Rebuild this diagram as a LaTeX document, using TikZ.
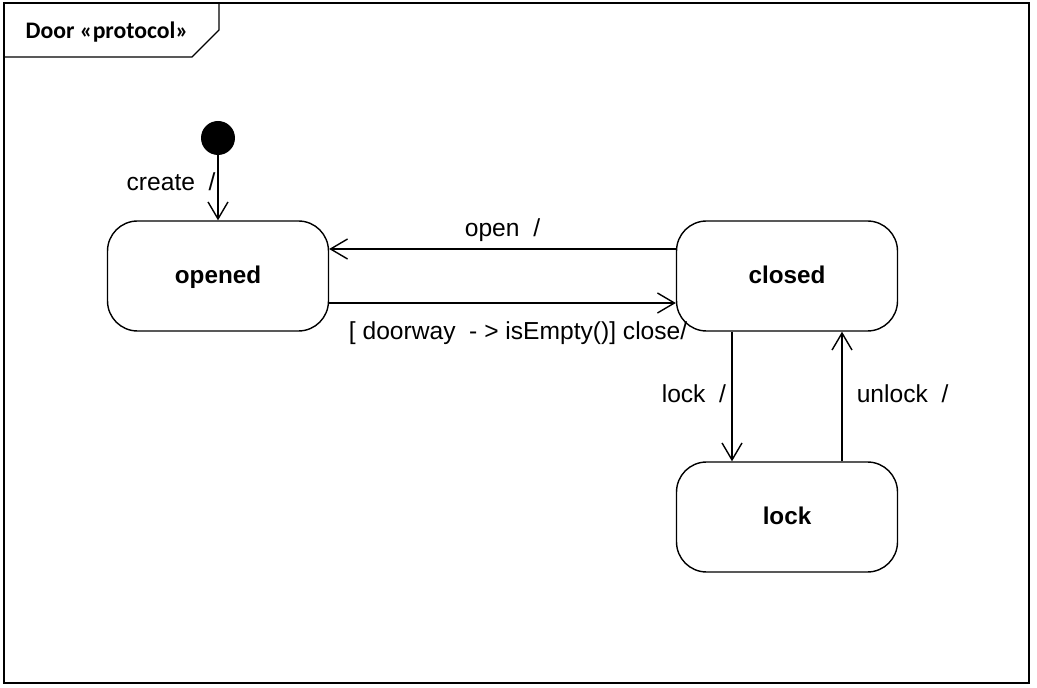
\documentclass[tikz,border=0pt]{standalone}
\usepackage{fontspec}
\setmainfont{Liberation Sans}
\newfontfamily\tabfont{Carlito}
\usetikzlibrary{arrows.meta, calc}

\tikzset{
  state/.style={draw, line width=0.8pt, rounded corners=0.6cm, minimum width=4.42cm,
    minimum height=2.2cm, inner sep=0pt, text height=2.1ex, text depth=0.4ex,
    font=\fontsize{13.8}{16}\selectfont\bfseries},
  trans/.style={line width=0.8pt, -{Straight Barb[length=0.34cm, width=0.4cm]}},
  lbl/.style={font=\fontsize{14}{16}\selectfont, inner sep=1pt},
}

\begin{document}
\begin{tikzpicture}[x=0.02cm, y=-0.02cm]
    \fill[white] (0,0) rectangle (1037,688);

    % frame with name tab
    \draw[line width=1pt] (4,3) rectangle (1029,683);
    \draw[line width=0.8pt] (219,3) -- (219,30) -- (192,57) -- (4,57);
    \node[font=\tabfont\fontsize{13.5}{16}\selectfont\bfseries] (title) at (107,32) {Door «protocol»};

    % states
    \node[circle, fill, minimum size=0.68cm, inner sep=0pt] (init) at (218,138) {};
    \node[state] (opened) at (218,276) {opened};
    \node[state] (closed) at (787,276) {closed};
    \node[state] (lock) at (787,517) {lock};

    % transitions
    \draw[trans] (init) -- (opened) node[lbl, left, pos=0.4] {create~~/};
    \draw[trans] ($(closed.west)+(0,-27)$) -- ($(opened.east)+(0,-27)$)
        node[lbl, above=3pt, midway] {open~~/};
    \draw[trans] ($(opened.east)+(0,27)$) -- ($(closed.west)+(0,27)$)
        node[lbl, below=9pt, pos=0.545] {[~doorway~~-~>~isEmpty()]~close/};
    \draw[trans] ($(closed.south)+(-55,0)$) -- ($(lock.north)+(-55,0)$)
        node[lbl, left=2pt, pos=0.48] {lock~~/};
    \draw[trans] ($(lock.north)+(55,0)$) -- ($(closed.south)+(55,0)$)
        node[lbl, right=7pt, pos=0.52] {unlock~~/};
\end{tikzpicture}
\end{document}
